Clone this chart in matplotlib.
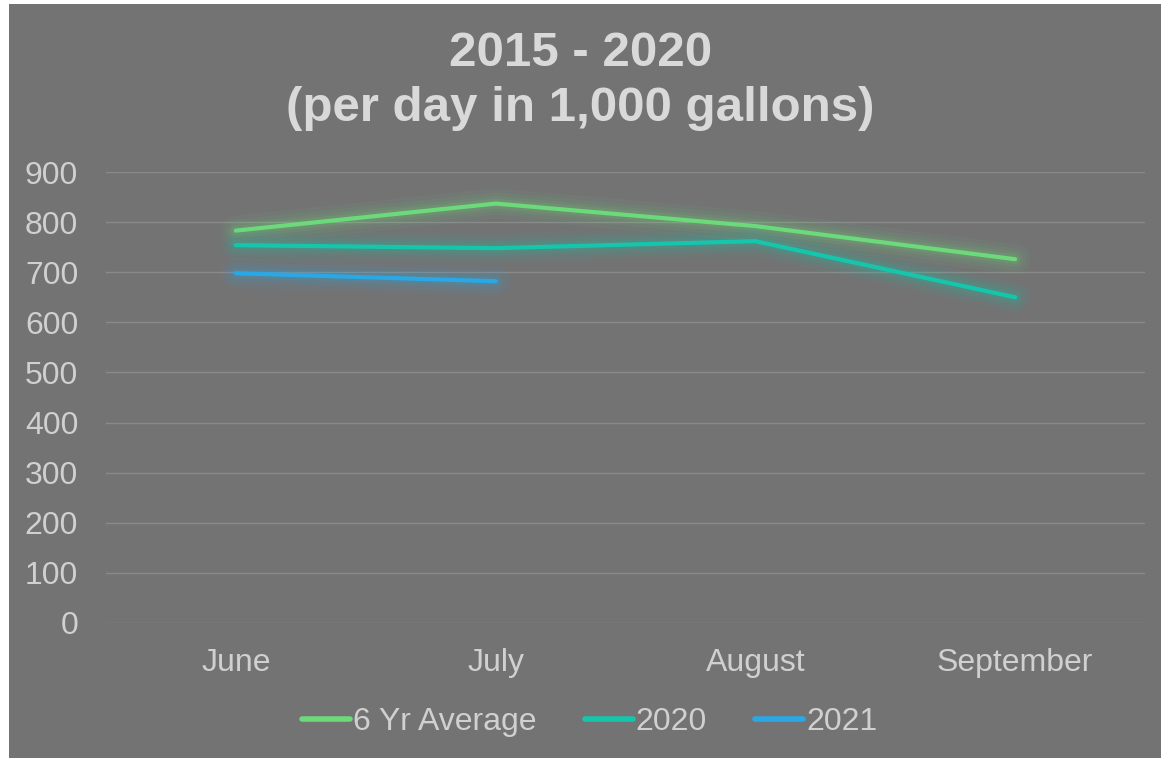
import matplotlib
matplotlib.use("Agg")
import matplotlib.pyplot as plt
import matplotlib.patheffects as pe
from matplotlib.patches import Rectangle

# ---- data ----------------------------------------------------------------
months = ["June", "July", "August", "September"]
avg_6yr = [783, 837, 792, 726]
y2020 = [754, 748, 762, 650]
y2021 = [698, 682]

BG = "#737373"
TXT = "#d0d0d0"
C_AVG = "#6cd97a"
C_2020 = "#15c6ad"
C_2021 = "#2aa8e6"

plt.rcParams["font.family"] = ["Liberation Sans", "DejaVu Sans"]

fig = plt.figure(figsize=(11.61, 7.58), dpi=100, facecolor="white")
fig.patches.append(Rectangle((9 / 1161, 0), 1 - 9 / 1161, 1 - 4 / 758,
                             transform=fig.transFigure, facecolor=BG,
                             edgecolor="none", zorder=-10))

ax = fig.add_axes([106 / 1161, 1 - 623 / 758, (1145 - 106) / 1161, (623 - 172) / 758])
ax.patch.set_visible(False)


def glow(color):
    # soft halo like the office "glow" effect
    return [pe.Stroke(linewidth=w, foreground=color, alpha=a)
            for w, a in ((22, 0.05), (16, 0.07), (11, 0.09), (7, 0.12))] + [pe.Normal()]


x = list(range(len(months)))
ax.plot(x, avg_6yr, color=C_AVG, lw=3, solid_capstyle="round",
        label="6 Yr Average", path_effects=glow(C_AVG), zorder=3)
ax.plot(x, y2020, color=C_2020, lw=3, solid_capstyle="round",
        label="2020", path_effects=glow(C_2020), zorder=3)
ax.plot(x[:len(y2021)], y2021, color=C_2021, lw=3, solid_capstyle="round",
        label="2021", path_effects=glow(C_2021), zorder=3)

ax.set_xlim(-0.5, 3.5)
ax.set_ylim(0, 900)
ax.set_yticks(range(0, 1000, 100))
ax.set_xticks(x)
ax.set_xticklabels(months)
ax.grid(axis="y", color="#8a8a8a", lw=1.0)
ax.set_axisbelow(True)
for s in ax.spines.values():
    s.set_visible(False)
ax.tick_params(length=0, labelsize=23, colors=TXT)
ax.tick_params(axis="y", pad=20)
ax.tick_params(axis="x", pad=18)

fig.text(0.5, 1 - 81 / 758, "2015 - 2020\n(per day in 1,000 gallons)",
         ha="center", va="center", fontsize=35.5, fontweight="bold",
         color="#d9d9d9", linespacing=1.3)

leg = fig.legend(loc="center", bbox_to_anchor=(0.508, 1 - 722 / 758), ncol=3,
                 frameon=False, fontsize=23, handlelength=1.5, handletextpad=0.1,
                 columnspacing=1.5)
for t in leg.get_texts():
    t.set_color(TXT)
for h in leg.legend_handles:
    h.set_path_effects([])
    h.set_linewidth(4)

fig.savefig("out.png", dpi=100, facecolor=fig.get_facecolor())
